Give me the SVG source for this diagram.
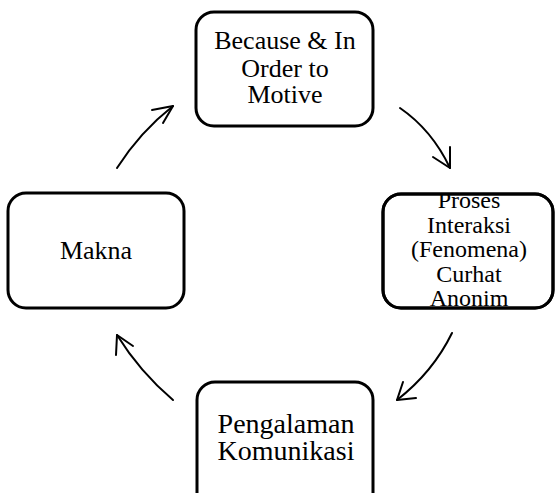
<svg xmlns="http://www.w3.org/2000/svg" width="556" height="493" viewBox="0 0 556 493">
<style>
.box{fill:#fff;stroke:#000;stroke-width:3}
.t{font-family:"Liberation Serif","Times New Roman",serif;text-anchor:middle;fill:#000}
.c{fill:none;stroke:#000;stroke-width:2;stroke-linecap:round;stroke-linejoin:round}
</style>
<defs>
<clipPath id="clipR"><rect x="383" y="194" width="170" height="113" rx="16"/></clipPath>
</defs>
<rect width="556" height="493" fill="#fff"/>
<g id="node-motive">
<rect class="box" x="196" y="12" width="177" height="114" rx="18"/>
<text class="t" font-size="26" x="285" y="49">Because &amp; In</text>
<text class="t" font-size="26" x="285" y="77">Order to</text>
<text class="t" font-size="26" x="285" y="103">Motive</text>
</g>
<g id="node-proses">
<rect class="box" x="383" y="194" width="170" height="114" rx="18"/>
<g clip-path="url(#clipR)">
<text class="t" font-size="24" x="469" y="208">Proses</text>
<text class="t" font-size="24" x="469" y="233">Interaksi</text>
<text class="t" font-size="24" x="469" y="257">(Fenomena)</text>
<text class="t" font-size="24" x="469" y="282">Curhat</text>
<text class="t" font-size="24" x="469" y="306">Anonim</text>
</g>
<rect x="383" y="194" width="170" height="114" rx="18" fill="none" stroke="#000" stroke-width="3"/>
</g>
<g id="node-pengalaman">
<rect class="box" x="197" y="382" width="176" height="130" rx="18"/>
<text class="t" font-size="28" x="286" y="433">Pengalaman</text>
<text class="t" font-size="28" x="286" y="460">Komunikasi</text>
</g>
<g id="node-makna">
<rect class="box" x="8" y="193" width="176" height="115" rx="18"/>
<text class="t" font-size="26" x="96" y="259">Makna</text>
</g>
<g id="connectors">
<path class="c" d="M117,168 Q140,132 173,106"/>
<path class="c" d="M152,110 L173,106 L163,123"/>
<path class="c" d="M400,108 Q432,130 450,168"/>
<path class="c" d="M450,147 L450,168 L433,157"/>
<path class="c" d="M452,333 Q433,372 397,400"/>
<path class="c" d="M403,382 L397,400 L416,398"/>
<path class="c" d="M173,400 Q140,372 117,335"/>
<path class="c" d="M116,355 L117,335 L133,346"/>
</g>
</svg>
